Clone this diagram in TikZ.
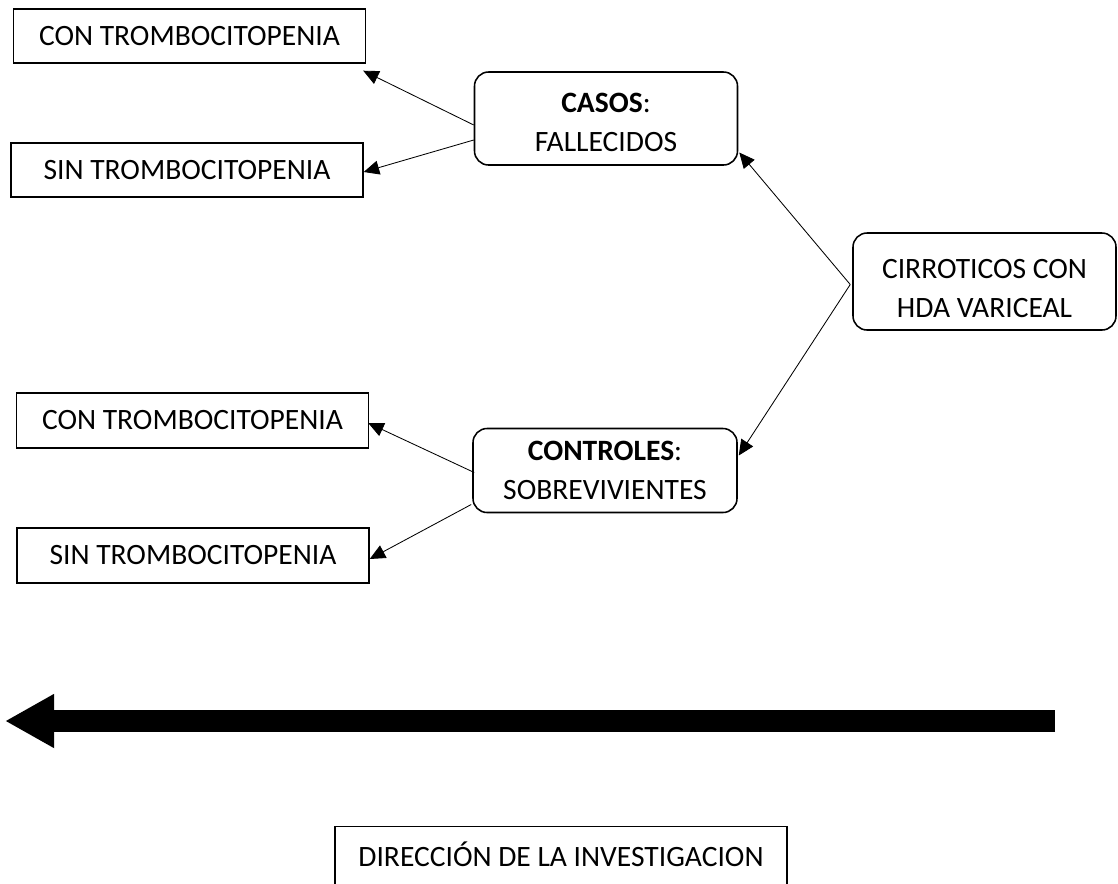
\documentclass[tikz,border=0pt]{standalone}
\usepackage{fontspec}
\setmainfont{Carlito}
\usepackage{tikz}
\usetikzlibrary{arrows.meta,positioning}

\begin{document}
\begin{tikzpicture}[x=0.025cm, y=-0.025cm,
      grp/.style={draw, line width=1pt, minimum width=352*0.025cm,
                  minimum height=54*0.025cm, inner sep=0pt,
                  font=\fontsize{21}{26}\selectfont},
      stg/.style={draw, line width=1.1pt, rounded corners=10pt,
                  minimum width=263*0.025cm, inner sep=0pt},
      txt/.style={align=center, font=\fontsize{21}{28}\selectfont},
      arr/.style={-{Triangle[length=11pt,width=10pt]}, line width=0.6pt},
      big/.style={-{Triangle[length=35pt,width=36pt]}, line width=15.6pt}
  ]
    \useasboundingbox (0,0) rectangle (1118,883);
    \clip (0,0) rectangle (1118,883);
    \node[grp] (con1) at (189.5,36) {CON TROMBOCITOPENIA};
    \node[grp] (sin1) at (187,170) {SIN TROMBOCITOPENIA};
    \node[grp, minimum height=55*0.025cm] (con2) at (192.5,420.5) {CON TROMBOCITOPENIA};
    \node[grp, minimum height=55*0.025cm] (sin2) at (193,555.5) {SIN TROMBOCITOPENIA};
    \node[stg, minimum height=93*0.025cm,
          label={[txt, yshift=-4*0.025cm]center:\textbf{CASOS}:\\ FALLECIDOS}] (casos) at (606,118.5) {};
    \node[stg, minimum height=84*0.025cm, minimum width=264*0.025cm,
          label={[txt]center:\textbf{CONTROLES}:\\ SOBREVIVIENTES}] (ctrl) at (605,470.5) {};
    \node[stg, minimum height=97*0.025cm,
          label={[txt, yshift=-7*0.025cm]center:CIRROTICOS CON\\ HDA VARICEAL}] (cirr) at (984.5,281.5) {};
    \node[grp, minimum width=452*0.025cm, minimum height=68*0.025cm,
          anchor=north] (dir) at (561,826) {\raisebox{10pt}{DIRECCIÓN DE LA INVESTIGACION}};
    \draw[arr] ([shift={(0,6.5)}]casos.west) -- ([shift={(-3,7)}]con1.south east);
    \draw[arr] ([shift={(0,21.5)}]casos.west) -- ([shift={(0,2)}]sin1.east);
    \draw[arr] ([shift={(-2,3)}]cirr.west) -- ([shift={(1,34)}]casos.east);
    \draw[arr] ([shift={(-2,3)}]cirr.west) -- ([shift={(1,-15)}]ctrl.east);
    \draw[arr] ([shift={(2,2)}]ctrl.west) -- ([shift={(-1,2.5)}]con2.east);
    \draw[arr] ([shift={(-1,34)}]ctrl.west) -- ([shift={(0,3.5)}]sin2.east);
    \coordinate (dirS) at (1055,721);
    \coordinate (dirE) at (5,721);
    \draw[big] (dirS) -- (dirE);
  \end{tikzpicture}
\end{document}
